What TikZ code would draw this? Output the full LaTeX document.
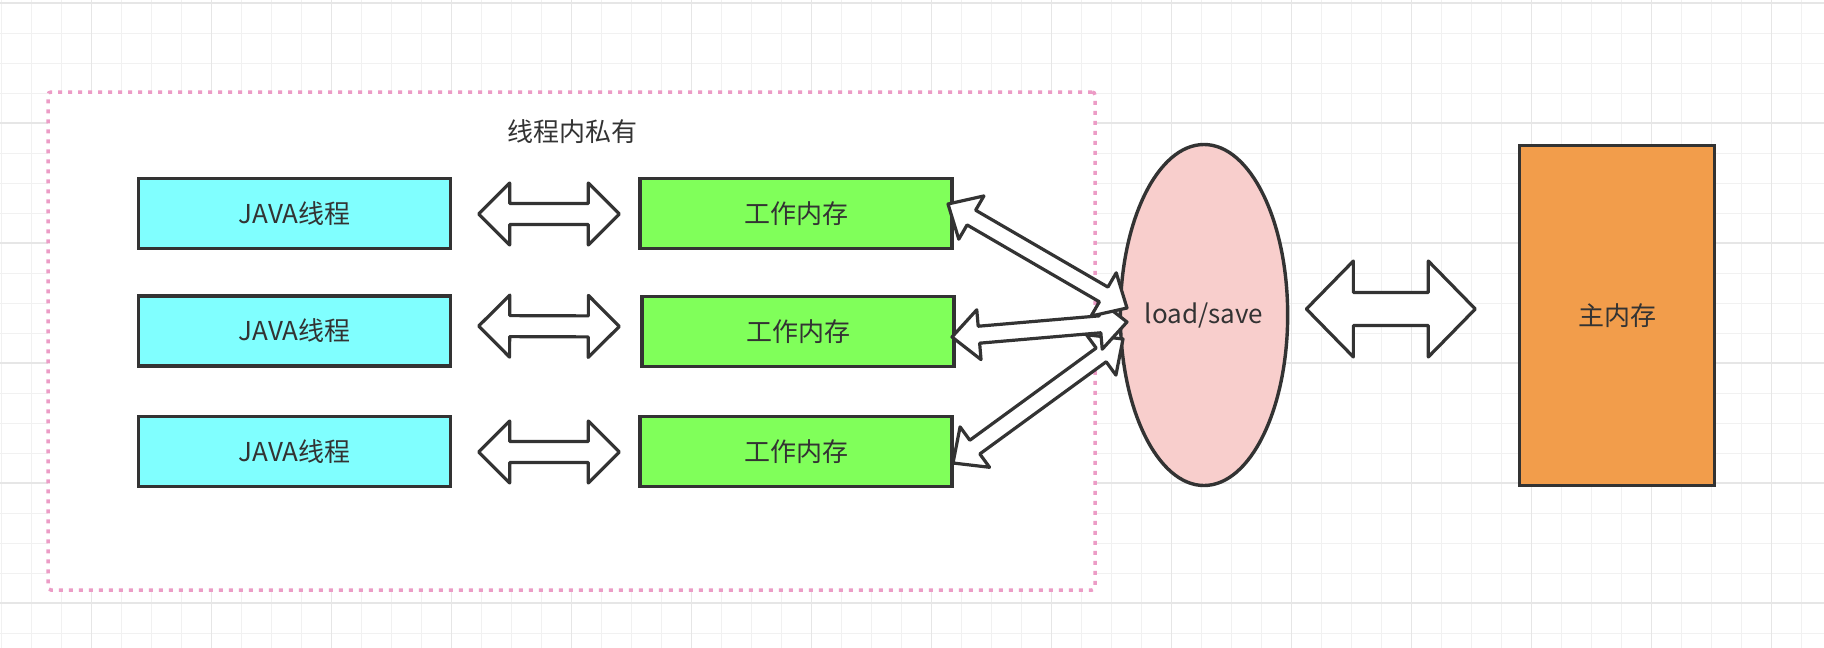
\documentclass[tikz,border=0pt]{standalone}
\usepackage{fontspec}
\newfontfamily\cjk{Noto Sans CJK SC}
\usetikzlibrary{shapes.geometric,calc}
\definecolor{ink}{HTML}{333333}
\definecolor{cyanfill}{HTML}{80FFFF}
\definecolor{greenfill}{HTML}{80FF5A}
\definecolor{pinkfill}{HTML}{F8CECC}
\definecolor{orangefill}{HTML}{F29D4B}
\definecolor{dotpink}{HTML}{EC9CC6}
\definecolor{gridminor}{HTML}{F1F1F1}
\definecolor{gridmajor}{HTML}{E6E6E6}
% double block arrow: #1 from, #2 to, #3 head length, #4 half head width, #5 half shaft width
\newcommand\dblarrow[5]{%
  \path ($(#1)!#3pt!(#2)$) coordinate (hA) ($(#2)!#3pt!(#1)$) coordinate (hB);
  \draw[blockarrow] (#1) -- ($(hA)!#4pt!90:(#2)$) -- ($(hA)!#5pt!90:(#2)$)
    -- ($(hB)!#5pt!-90:(#1)$) -- ($(hB)!#4pt!-90:(#1)$) -- (#2)
    -- ($(hB)!#4pt!90:(#1)$) -- ($(hB)!#5pt!90:(#1)$)
    -- ($(hA)!#5pt!-90:(#2)$) -- ($(hA)!#4pt!-90:(#2)$) -- cycle;
}
\begin{document}
\begin{tikzpicture}[x=1pt,y=-1pt,
  txt/.style={text=ink, font=\cjk\fontsize{26}{31}\selectfont},
  cbox/.style={txt, draw=ink, line width=3.4pt, fill=cyanfill, minimum width=312pt, minimum height=70pt, inner sep=0pt},
  gbox/.style={cbox, fill=greenfill},
  ell/.style={txt, ellipse, draw=ink, line width=3.4pt, fill=pinkfill, minimum width=163pt, minimum height=341pt, inner sep=0pt},
  obox/.style={txt, draw=ink, line width=3.4pt, fill=orangefill, minimum width=195pt, minimum height=340pt, inner sep=0pt},
  privbox/.style={draw=dotpink, fill=white, line width=3.5pt, dash pattern=on 4pt off 6pt, rounded corners=3pt, minimum width=1047pt, minimum height=498pt, inner sep=0pt},
  blockarrow/.style={draw=ink, fill=white, line width=3.2pt, line join=round}
]
\useasboundingbox (0,0) rectangle (1824,648);
\fill[white] (0,0) rectangle (1824,648);
% grid
\foreach \gx in {1.5,31.5,...,1822} \draw[gridminor, line width=1pt] (\gx,0) -- (\gx,648);
\foreach \gy in {3,33,...,646} \draw[gridminor, line width=1pt] (0,\gy) -- (1824,\gy);
\foreach \gx in {91.5,211.5,...,1822} \draw[gridmajor, line width=1.5pt] (\gx,0) -- (\gx,648);
\foreach \gy in {3,123,...,646} \draw[gridmajor, line width=1.5pt] (0,\gy) -- (1824,\gy);

% private area
\node[privbox] (priv) at (571.5,341) {};
\node[txt] (title) at (572,132) {线程内私有};

% threads
\node[cbox] (c1) at (294.5,213.5) {JAVA线程};
\node[cbox] (c2) at (294.5,331) {JAVA线程};
\node[cbox] (c3) at (294.5,451.5) {JAVA线程};
% working memories
\node[gbox] (g1) at (796,213.5) {工作内存};
\node[gbox] (g2) at (798,331.5) {工作内存};
\node[gbox] (g3) at (796,451.5) {工作内存};
% load/save and main memory
\node[ell] (ls) at (1204,315) {load/save};
\node[obox] (mm) at (1617,315.5) {主内存};

% arrow end points
\coordinate (h1a) at ($(c1.east)+(26.5,0.5)$);
\coordinate (h1b) at ($(g1.west)+(-19,0.5)$);
\coordinate (h2a) at ($(c2.east)+(26.5,-5)$);
\coordinate (h2b) at ($(g2.west)+(-21,-5)$);
\coordinate (h3a) at ($(c3.east)+(26.5,0.5)$);
\coordinate (h3b) at ($(g3.west)+(-19,0.5)$);
\coordinate (d1a) at (948,204);
\coordinate (d1b) at (1127,308);
\coordinate (d2a) at (952,337);
\coordinate (d2b) at (1127,322);
\coordinate (d3a) at (953,463);
\coordinate (d3b) at (1123,339);
\coordinate (ma) at ($(ls.east)+(17,-6)$);
\coordinate (mb) at ($(mm.west)+(-42.5,-6.5)$);

\dblarrow{h1a}{h1b}{31}{31}{10.5}
\dblarrow{h2a}{h2b}{31}{31}{10.5}
\dblarrow{h3a}{h3b}{31}{31}{10.5}
\dblarrow{d3a}{d3b}{27}{25}{8.5}
\dblarrow{d2a}{d2b}{27}{25}{8.5}
\dblarrow{d1a}{d1b}{27}{25}{8.5}
\dblarrow{ma}{mb}{47}{48}{16.5}
\end{tikzpicture}
\end{document}
